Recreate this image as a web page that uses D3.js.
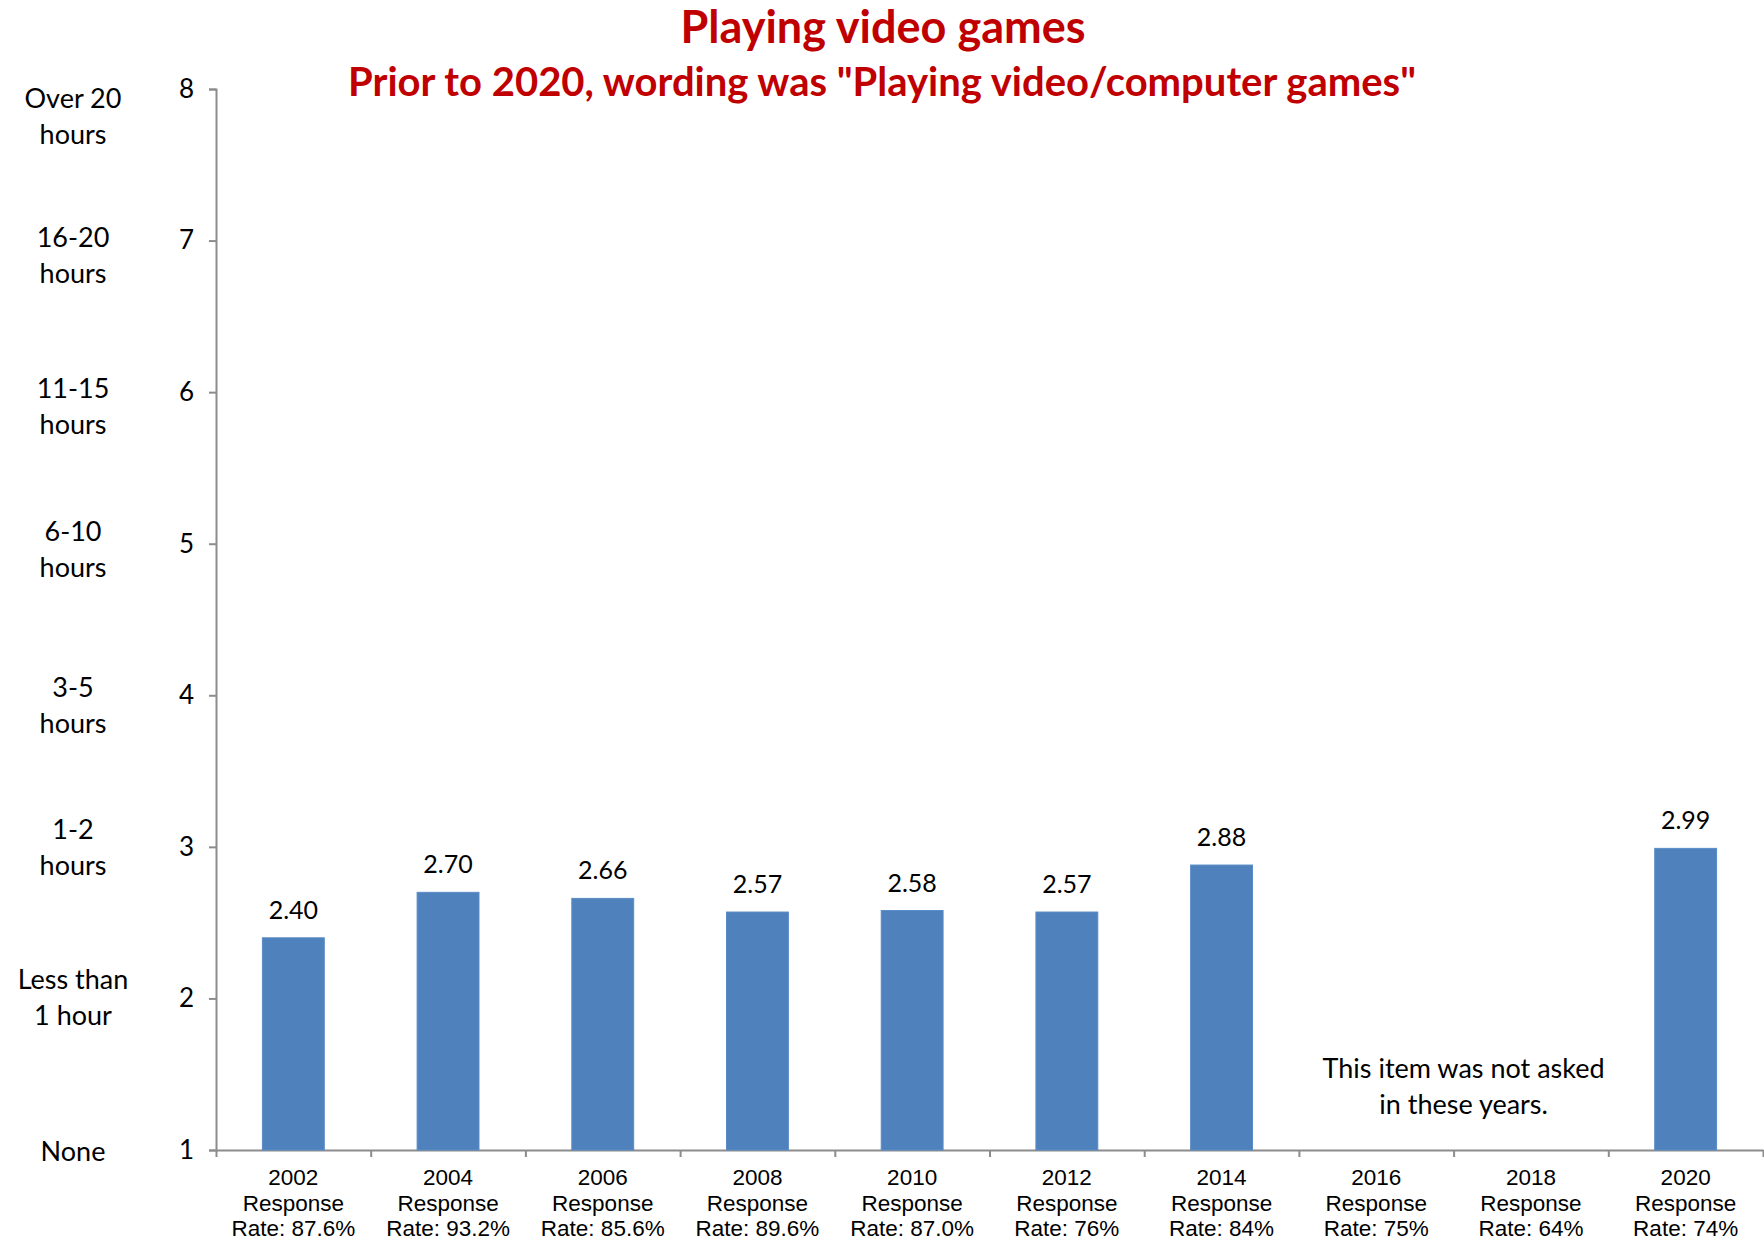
<!DOCTYPE html>
<html>
<head>
<meta charset="utf-8">
<script src="https://cdn.jsdelivr.net/npm/d3@7"></script>
<style>
  html, body { margin:0; padding:0; background:#fff; }
  svg { display:block; }
  .cal { font-family: Lato, "Open Sans", sans-serif; }
  .ari { font-family: "Liberation Sans", Arial, sans-serif; }
</style>
</head>
<body>
<div id="chart"></div>
<script>
// ---- data ----
const years = ["2002","2004","2006","2008","2010","2012","2014","2016","2018","2020"];
const values = [2.40, 2.70, 2.66, 2.57, 2.58, 2.57, 2.88, null, null, 2.99];
const responseRates = ["87.6%","93.2%","85.6%","89.6%","87.0%","76%","84%","75%","64%","74%"];
const yTicks = [1,2,3,4,5,6,7,8];
const hourLabels = [["None"],["Less than","1 hour"],["1-2","hours"],["3-5","hours"],
                    ["6-10","hours"],["11-15","hours"],["16-20","hours"],["Over 20","hours"]];
const title = "Playing video games";
const subtitle = 'Prior to 2020, wording was "Playing video/computer games"';
const note = ["This item was not asked","in these years."];

// ---- layout ----
const W = 1764, H = 1241;
const X0 = 216, X1 = 1763, Y0 = 1150, Y1 = 89;
const AXIS = "#8c8c8c";
// the hour text boxes sit a little below their ticks, not all by the same amount
const hourNudge = [2, 0, 1, 11, 6, 15, 15, 28];

const svg = d3.select("#chart").append("svg").attr("width", W).attr("height", H);

const x = d3.scaleBand().domain(years).range([X0, X1]).paddingInner(0.6).paddingOuter(0.3);
const xb = d3.scaleLinear().domain([0, years.length]).range([X0, X1]);
const y = d3.scaleLinear().domain([1, 8]).range([Y0, Y1]);

// titles
svg.append("text").attr("class","cal")
  .attr("x", 883).attr("y", 43).attr("text-anchor","middle")
  .attr("font-size", 45).attr("font-weight", 700).attr("fill", "#c00000")
  .text(title);
svg.append("text").attr("class","cal")
  .attr("x", 882).attr("y", 96).attr("text-anchor","middle")
  .attr("font-size", 40).attr("font-weight", 700).attr("fill", "#c00000")
  .text(subtitle);

// y axis
const ya = svg.append("g").attr("transform", `translate(${X0},0)`)
  .call(d3.axisLeft(y).tickValues(yTicks).tickFormat(d3.format("d")).tickSize(7).tickPadding(15));
ya.select(".domain").attr("stroke", AXIS).attr("stroke-width", 2);
ya.selectAll(".tick line").attr("stroke", AXIS).attr("stroke-width", 2);
ya.selectAll(".tick text").attr("class","cal").attr("font-size", 26).attr("fill","#000");

// hour labels on the far left
const hl = svg.append("g").selectAll("text").data(yTicks).join("text")
  .attr("class","cal").attr("font-size", 27).attr("fill","#000")
  .attr("text-anchor","middle")
  .attr("transform", (d,i) => `translate(73,${y(d) + hourNudge[i]})`);
hl.selectAll("tspan").data((d,i) => hourLabels[i].map((t,j,a) => ({t, j, n:a.length}))).join("tspan")
  .attr("x", 0)
  .attr("y", d => (d.j - (d.n - 1) / 2) * 36 + 9)
  .text(d => d.t);

// x axis (ticks at category boundaries)
const xa = svg.append("g").attr("transform", `translate(0,${Y0})`)
  .call(d3.axisBottom(xb).tickValues(d3.range(0, years.length + 1)).tickFormat("").tickSize(7).tickSizeOuter(0));
xa.select(".domain").attr("stroke", AXIS).attr("stroke-width", 2);
xa.selectAll(".tick line").attr("stroke", AXIS).attr("stroke-width", 2);

// category labels
const cl = svg.append("g").selectAll("text").data(years).join("text")
  .attr("class","ari").attr("font-size", 22.5).attr("fill","#000")
  .attr("text-anchor","middle")
  .attr("transform", d => `translate(${x(d) + x.bandwidth()/2},${Y0 + 35})`);
cl.append("tspan").attr("x",0).attr("y",0).text(d => d);
cl.append("tspan").attr("x",0).attr("y",25.5).text("Response");
cl.append("tspan").attr("x",0).attr("y",51).text((d,i) => "Rate: " + responseRates[i]);

// bars
const rows = years.map((yr, i) => ({ yr, v: values[i] })).filter(d => d.v != null);
svg.append("g").selectAll("rect").data(rows).join("rect")
  .attr("x", d => x(d.yr)).attr("width", x.bandwidth())
  .attr("y", d => y(d.v)).attr("height", d => y(1) - y(d.v))
  .attr("fill", "#4f81bd").attr("stroke", "#5b8cc6").attr("stroke-width", 1);

// data labels
svg.append("g").selectAll("text").data(rows).join("text")
  .attr("class","cal").attr("font-size", 25).attr("fill","#000")
  .attr("text-anchor","middle")
  .attr("x", d => x(d.yr) + x.bandwidth()/2)
  .attr("y", d => y(d.v) - 19)
  .text(d => d3.format(".2f")(d.v));

// note for missing years
const nx = (x("2016") + x("2018") + x.bandwidth()) / 2 + 10;
svg.append("text").attr("class","cal").attr("font-size", 27).attr("fill","#000")
  .attr("text-anchor","middle")
  .selectAll("tspan").data(note).join("tspan")
  .attr("x", nx).attr("y", (d,i) => 1078 + i * 36)
  .text(d => d);
</script>
</body>
</html>
